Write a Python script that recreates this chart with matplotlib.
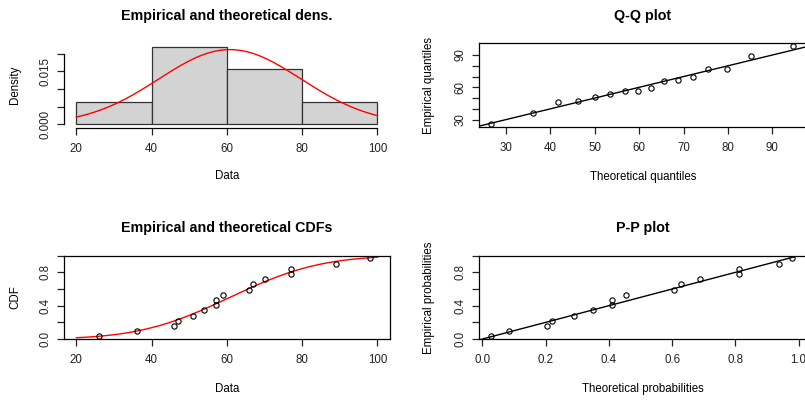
import math
import matplotlib
matplotlib.use("Agg")
import matplotlib.pyplot as plt
import numpy as np

plt.rcParams['font.family'] = ['Liberation Sans', 'DejaVu Sans']

data = [26, 36, 46, 47, 51, 54, 57, 57, 59, 66, 67, 70, 77, 77, 89, 98]
hist_breaks = [20, 40, 60, 80, 100]
# empirical probabilities (plotting positions)
emp_prob = [0.031, 0.094, 0.156, 0.219, 0.281, 0.344, 0.406, 0.469,
            0.531, 0.594, 0.656, 0.719, 0.781, 0.844, 0.906, 0.969]
# theoretical quantiles
theo_quant = [26.6, 36.0, 41.8, 46.2, 50.0, 53.4, 56.7, 59.7,
              62.7, 65.7, 68.8, 72.1, 75.5, 79.8, 85.3, 94.6]
# theoretical probabilities
theo_prob = [0.027, 0.084, 0.203, 0.219, 0.290, 0.349, 0.411, 0.411,
             0.455, 0.607, 0.628, 0.689, 0.810, 0.810, 0.938, 0.979]
# fitted normal
fit_mean = 60.8
fit_sd = 18.9

W, H = 805, 403
fig = plt.figure(figsize=(W / 100, H / 100), dpi=100)

FS = 8.3
TFS = 10.3


def add_ax(left, top, right, bottom):
    return fig.add_axes([left / W, 1 - bottom / H, (right - left) / W, (bottom - top) / H])


def style(ax, top, bottom, left, title, xlabel, ylabel, title_y, xlab_y, ylab_x):
    hpx = bottom - top
    pos = ax.get_position()
    wpx = pos.width * W
    ax.tick_params(length=5, width=0.9, labelsize=FS, colors='#222222')
    ax.tick_params(axis='x', pad=6)
    ax.tick_params(axis='y', pad=4)
    plt.setp(ax.get_yticklabels(), rotation=90, va='center')
    ax.text(0.5, (top - title_y) / hpx + 1, title, transform=ax.transAxes,
            ha='center', va='center', fontsize=TFS, fontweight='bold')
    ax.set_xlabel(xlabel, fontsize=FS, va='center')
    ax.xaxis.set_label_coords(0.5, -(xlab_y - bottom) / hpx)
    ax.set_ylabel(ylabel, fontsize=FS, va='center', ha='center')
    ax.yaxis.set_label_coords(-(left - ylab_x) / wpx, 0.5)
    for s in ax.spines.values():
        s.set_linewidth(0.9)


xs = np.linspace(20, 100, 300)
pdf = np.exp(-0.5 * ((xs - fit_mean) / fit_sd) ** 2) / (fit_sd * math.sqrt(2 * math.pi))
cdf = np.array([0.5 * (1 + math.erf((x - fit_mean) / (fit_sd * math.sqrt(2)))) for x in xs])

MS = 3.8

# density
ax1 = add_ax(64.3, 42.9, 389.5, 127.7)
ax1.hist(data, bins=hist_breaks, density=True, color='#d3d3d3', edgecolor='#333333', linewidth=0.9)
ax1.plot(xs, pdf, color='red', lw=1)
ax1.set_xlim(16.8, 103.2)
ax1.set_ylim(-0.00096, 0.0230)
ax1.set_xticks([20, 40, 60, 80, 100])
ax1.set_yticks([0, 0.005, 0.010, 0.015, 0.020])
ax1.set_yticklabels(['0.000', '', '', '0.015', ''])
ax1.spines['top'].set_visible(False)
ax1.spines['right'].set_visible(False)
ax1.spines['left'].set_bounds(0, 0.020)
ax1.spines['bottom'].set_bounds(20, 100)
style(ax1, 42.9, 127.7, 64.3, 'Empirical and theoretical dens.', 'Data', 'Density', 16, 175.7, 15)

# Q-Q
ax2 = add_ax(479, 43.3, 806.5, 127)
ax2.plot([0, 200], [0, 200], color='black', lw=1)
ax2.plot(theo_quant, data, 'o', mfc='none', mec='black', ms=MS, mew=0.8)
ax2.set_xlim(23.9, 97.7)
ax2.set_ylim(23.1, 100.9)
ax2.set_xticks([30, 40, 50, 60, 70, 80, 90])
ax2.set_yticks([30, 40, 50, 60, 70, 80, 90])
ax2.set_yticklabels(['30', '', '', '60', '', '', '90'])
style(ax2, 43.3, 127, 479, 'Q-Q plot', 'Theoretical quantiles', 'Empirical quantiles', 16, 176.7, 429)

# CDF
ax3 = add_ax(64.3, 255.7, 389.5, 339)
ax3.plot(xs, cdf, color='red', lw=1)
ax3.plot(data, emp_prob, 'o', mfc='none', mec='black', ms=MS, mew=0.8)
ax3.set_xlim(16.8, 103.2)
ax3.set_ylim(0, 1)
ax3.set_xticks([20, 40, 60, 80, 100])
ax3.set_yticks([0, 0.2, 0.4, 0.6, 0.8, 1.0])
ax3.set_yticklabels(['0.0', '', '0.4', '', '0.8', ''])
style(ax3, 255.7, 339, 64.3, 'Empirical and theoretical CDFs', 'Data', 'CDF', 228, 389.3, 15)

# P-P
ax4 = add_ax(479, 255.7, 806.5, 339)
ax4.plot([-1, 2], [-1, 2], color='black', lw=1)
ax4.plot(theo_prob, emp_prob, 'o', mfc='none', mec='black', ms=MS, mew=0.8)
ax4.set_xlim(-0.011, 1.025)
ax4.set_ylim(0, 1)
ax4.set_xticks([0, 0.2, 0.4, 0.6, 0.8, 1.0])
ax4.set_xticklabels(['0.0', '0.2', '0.4', '0.6', '0.8', '1.0'])
ax4.set_yticks([0, 0.2, 0.4, 0.6, 0.8, 1.0])
ax4.set_yticklabels(['0.0', '', '0.4', '', '0.8', ''])
style(ax4, 255.7, 339, 479, 'P-P plot', 'Theoretical probabilities', 'Empirical probabilities', 228, 389.3, 429)

fig.savefig('out.png', dpi=100)
